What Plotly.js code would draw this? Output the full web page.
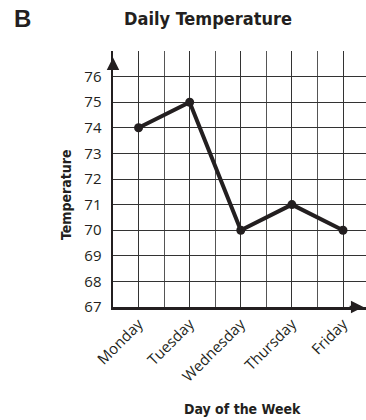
<!DOCTYPE html>
<html>
<head>
<meta charset="utf-8">
<script src="https://cdn.plot.ly/plotly-3.0.1.min.js"></script>
<style>html,body{margin:0;padding:0;background:#fff;}#chart{width:366px;height:420px;}</style>
</head>
<body>
<div id="chart"></div>
<script>
var days = ['Monday', 'Tuesday', 'Wednesday', 'Thursday', 'Friday'];
var temps = [74, 75, 70, 71, 70];
var yTickVals = [67, 68, 69, 70, 71, 72, 73, 74, 75, 76, 77];
var yTickText = ['67', '68', '69', '70', '71', '72', '73', '74', '75', '76', ''];
var chartTitle = 'Daily Temperature';
var xTitle = 'Day of the Week';
var yTitle = 'Temperature';
var panelLabel = 'B';

var ink = '#231f20';
var xPos = days.map(function (d, i) { return i + 1; });
var condensed = '"DejaVu Sans Condensed", "Liberation Sans Narrow", "DejaVu Sans", sans-serif';

var trace = {
  x: xPos,
  y: temps,
  type: 'scatter',
  mode: 'lines+markers',
  line: { color: ink, width: 4 },
  marker: { color: ink, size: 9 },
  cliponaxis: false,
  hoverinfo: 'skip'
};

var layout = {
  width: 366,
  height: 420,
  margin: { l: 113, r: 0, t: 51, b: 113 },
  paper_bgcolor: '#fff',
  plot_bgcolor: '#fff',
  showlegend: false,
  title: {
    text: chartTitle,
    font: { family: condensed, size: 18, color: ink, weight: 'bold' },
    x: 208 / 366, xref: 'container', xanchor: 'center',
    y: 1 - 19 / 420, yref: 'container', yanchor: 'middle'
  },
  xaxis: {
    range: [0.5, 5.45],
    tickvals: xPos,
    ticktext: days,
    tickangle: -45,
    ticks: '',
    tickfont: { family: '"Open Sans", sans-serif', size: 15, color: ink },
    showgrid: true,
    gridcolor: '#333333',
    gridwidth: 1,
    minor: { tick0: 0.5, dtick: 0.5, showgrid: true, gridcolor: '#555555', gridwidth: 1, ticks: '' },
    showline: true,
    linecolor: ink,
    linewidth: 2.5,
    zeroline: false,
    fixedrange: true
  },
  yaxis: {
    range: [67, 77],
    tickvals: yTickVals,
    ticktext: yTickText,
    ticks: '',
    ticklabelstandoff: 6,
    tickfont: { family: '"Open Sans", sans-serif', size: 15, color: ink },
    showgrid: true,
    gridcolor: '#333333',
    gridwidth: 1,
    showline: true,
    linecolor: ink,
    linewidth: 2.5,
    zeroline: false,
    fixedrange: true
  },
  annotations: [
    {
      text: panelLabel, xref: 'paper', yref: 'paper',
      x: -91 / 253, y: 1 + 33 / 256, xanchor: 'center', yanchor: 'middle',
      showarrow: false,
      font: { family: '"Liberation Sans", Arial, sans-serif', size: 24, color: ink, weight: 'bold' }
    },
    {
      text: yTitle, xref: 'paper', yref: 'paper',
      x: -47 / 253, y: (307 - 195) / 256, xanchor: 'center', yanchor: 'middle',
      textangle: -90, showarrow: false,
      font: { family: condensed, size: 14, color: ink, weight: 'bold' }
    },
    {
      text: xTitle, xref: 'paper', yref: 'paper',
      x: (242 - 113) / 253, y: -(409 - 307) / 256, xanchor: 'center', yanchor: 'middle',
      showarrow: false,
      font: { family: condensed, size: 14, color: ink, weight: 'bold' }
    },
    {
      x: 0.5, y: 76.75, ax: 0.5, ay: 76.2, xref: 'x', yref: 'y', axref: 'x', ayref: 'y',
      text: '', showarrow: true, arrowhead: 2, arrowsize: 1, arrowwidth: 2.5, arrowcolor: ink
    },
    {
      x: 5.4, y: 67, ax: 5.1, ay: 67, xref: 'x', yref: 'y', axref: 'x', ayref: 'y',
      text: '', showarrow: true, arrowhead: 2, arrowsize: 1, arrowwidth: 2.5, arrowcolor: ink
    }
  ]
};

Plotly.newPlot('chart', [trace], layout, { displayModeBar: false, staticPlot: true });
</script>
</body>
</html>
